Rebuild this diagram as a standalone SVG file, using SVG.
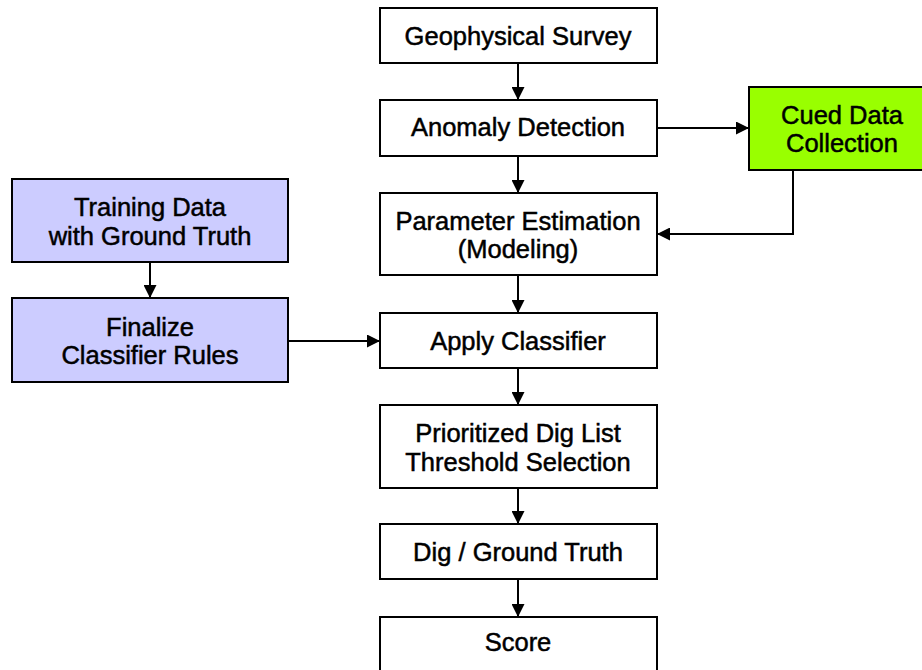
<svg xmlns="http://www.w3.org/2000/svg" width="922" height="670" viewBox="0 0 922 670">
<style>
.box{stroke:#000;stroke-width:2;fill:#fff}
.blue{fill:#ccccff}
.green{fill:#99ff00}
text{font-family:"Liberation Sans",Arial,sans-serif;font-size:25.5px;fill:#000;stroke:#000;stroke-width:0.5;text-anchor:middle}
.c{stroke:#000;stroke-width:2;fill:none;marker-end:url(#ah)}
</style>
<defs>
<marker id="ah" markerWidth="13" markerHeight="13" refX="13" refY="6.5" orient="auto" markerUnits="userSpaceOnUse">
<path d="M0,0 L13,6.5 L0,13 Z" fill="#000"/>
</marker>
</defs>
<g id="connectors">
<path class="c" d="M518,63 V100"/>
<path class="c" d="M518,156 V193"/>
<path class="c" d="M657,128 H749"/>
<path class="c" d="M793,170 V234 H657"/>
<path class="c" d="M518,275 V313"/>
<path class="c" d="M150,262 V298"/>
<path class="c" d="M288,341 H380"/>
<path class="c" d="M518,368 V405"/>
<path class="c" d="M518,488 V524"/>
<path class="c" d="M518,579 V617"/>
</g>
<g id="geo"><rect class="box" x="380" y="8" width="277" height="55"/><text x="518" y="45">Geophysical Survey</text></g>
<g id="anomaly"><rect class="box" x="380" y="100" width="277" height="56"/><text x="518" y="136">Anomaly Detection</text></g>
<g id="cued"><rect class="box green" x="749" y="87" width="180" height="83"/><text x="842" y="124">Cued Data</text><text x="842" y="152">Collection</text></g>
<g id="param"><rect class="box" x="380" y="193" width="277" height="82"/><text x="518" y="230">Parameter Estimation</text><text x="518" y="258">(Modeling)</text></g>
<g id="training"><rect class="box blue" x="12" y="179" width="276" height="83"/><text x="150" y="216">Training Data</text><text x="150" y="245">with Ground Truth</text></g>
<g id="finalize"><rect class="box blue" x="12" y="298" width="276" height="84"/><text x="150" y="336">Finalize</text><text x="150" y="364">Classifier Rules</text></g>
<g id="apply"><rect class="box" x="380" y="313" width="277" height="55"/><text x="518" y="350">Apply Classifier</text></g>
<g id="prior"><rect class="box" x="380" y="405" width="277" height="83"/><text x="518" y="442">Prioritized Dig List</text><text x="518" y="471">Threshold Selection</text></g>
<g id="dig"><rect class="box" x="380" y="524" width="277" height="55"/><text x="518" y="561">Dig / Ground Truth</text></g>
<g id="score"><rect class="box" x="380" y="617" width="277" height="70"/><text x="518" y="651">Score</text></g>
</svg>
